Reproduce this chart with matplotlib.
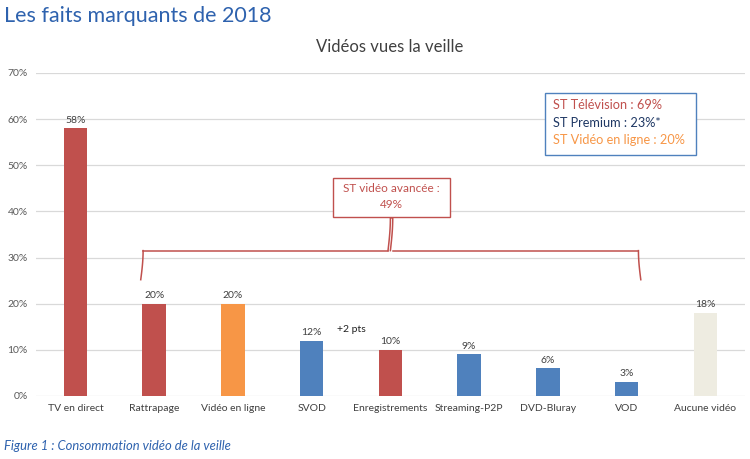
import matplotlib.pyplot as plt
import numpy as np

plt.rcParams['font.family'] = ['Lato', 'DejaVu Sans']

categories = ['TV en direct', 'Rattrapage', 'Vidéo en ligne', 'SVOD', 'Enregistrements',
              'Streaming-P2P', 'DVD-Bluray', 'VOD', 'Aucune vidéo']
values = [58, 20, 20, 12, 10, 9, 6, 3, 18]
bar_colors = ['#C0504D', '#C0504D', '#F79646', '#4F81BD', '#C0504D',
              '#4F81BD', '#4F81BD', '#4F81BD', '#EEECE1']
yticks = [0, 10, 20, 30, 40, 50, 60, 70]

fig = plt.figure(figsize=(7.5, 4.59), dpi=100)
ax = fig.add_axes([0.048, 0.1373, 0.945, 0.7037])

x = np.arange(len(categories))
bars = ax.bar(x, values, width=0.3, color=bar_colors, zorder=2)

ax.set_xlim(-0.5, len(categories) - 0.5)
ax.set_ylim(0, 70)
ax.set_yticks(yticks)
ax.set_yticklabels([f'{t}%' for t in yticks], fontsize=7.5, color='#595959')
ax.set_xticks(x)
ax.set_xticklabels(categories, fontsize=7.5, color='#404040')
ax.tick_params(length=0, pad=6)
ax.grid(axis='y', color='#D9D9D9', linewidth=0.9, zorder=0)
for s in ax.spines.values():
    s.set_visible(False)

for b, v in zip(bars, values):
    ax.text(b.get_x() + b.get_width() / 2, v + 0.8, f'{v}%', ha='center', va='bottom',
            fontsize=7.5, color='#404040')

ax.text(3.5, 14.5, '+2 pts', fontsize=7.5, color='#202020', ha='center', va='center')

# accolade
red = '#C0504D'
xl, xr, xm = 0.83, 7.18, 4.0
yb, yt, yp = 25.2, 31.5, 38.6
t = np.linspace(0, 1, 20)
w = 0.03
curve_y = yb + (yt - yb) * t
ax.plot(xl + w * np.sin(t * np.pi / 2), curve_y, color=red, lw=1.1, zorder=3)
ax.plot(xr - w * np.sin(t * np.pi / 2), curve_y, color=red, lw=1.1, zorder=3)
ax.plot([xl + w, xm - w], [yt, yt], color=red, lw=1.1, zorder=3)
ax.plot([xm + w, xr - w], [yt, yt], color=red, lw=1.1, zorder=3)
peak_x = np.concatenate([xm - w + w * np.sin(t * np.pi / 2),
                         xm + w * np.cos(t * np.pi / 2)])
peak_y = np.concatenate([yt + (yp - yt) * t, yp - (yp - yt) * t])
ax.plot(peak_x, peak_y, color=red, lw=1.1, zorder=3)

# encadré rouge
fig.patches.append(plt.Rectangle((333 / 750, 1 - 217 / 459), 117 / 750, 39 / 459,
                                 transform=fig.transFigure, fill=True, facecolor='white',
                                 edgecolor=red, lw=1))
fig.text(391 / 750, 1 - 188 / 459, 'ST vidéo avancée :', ha='center', va='center',
         fontsize=8.5, color=red)
fig.text(391 / 750, 1 - 205 / 459, '49%', ha='center', va='center',
         fontsize=8.5, color=red)

# encadré bleu
fig.patches.append(plt.Rectangle((545 / 750, 1 - 155 / 459), 151 / 750, 62 / 459,
                                 transform=fig.transFigure, fill=True, facecolor='white',
                                 edgecolor='#4F81BD', lw=1))
fig.text(553 / 750, 1 - 105 / 459, 'ST Télévision : 69%', ha='left', va='center',
         fontsize=9.2, color=red)
fig.text(553 / 750, 1 - 123 / 459, 'ST Premium : 23%*', ha='left', va='center',
         fontsize=9.2, color='#1F3864')
fig.text(553 / 750, 1 - 140 / 459, 'ST Vidéo en ligne : 20%', ha='left', va='center',
         fontsize=9.2, color='#F79646')

fig.text(4 / 750, 1 - 16 / 459, 'Les faits marquants de 2018', fontsize=15.5,
         color='#2E62AE', ha='left', va='center')
fig.text(390 / 750, 1 - 47 / 459, 'Vidéos vues la veille', fontsize=12,
         color='#404040', ha='center', va='center')
fig.text(4 / 750, 1 - 446 / 459, 'Figure 1 : Consommation vidéo de la veille', fontsize=9.4,
         style='italic', color='#2E62AE', ha='left', va='center')

fig.savefig('out.png', dpi=100)
